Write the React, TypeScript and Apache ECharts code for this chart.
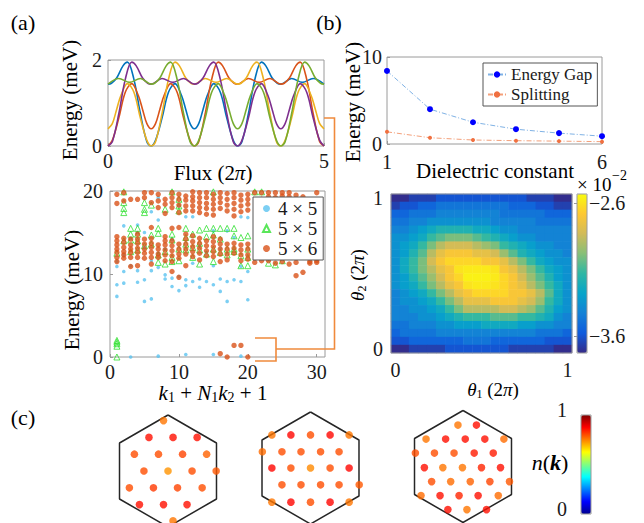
import React, { useEffect, useRef } from 'react';
import * as echarts from 'echarts';

const FONT = 'Liberation Serif, Times New Roman, serif';
const BOX = '#9a9a9a';
const INK = '#1a1a1a';

// ---------- (a) top: spectral flow vs flux ----------
const fluxTicksX = [0, 5];
const fluxTicksY = [0, 2];
const flowBlue = [[0,1.44],[0.08,1.46],[0.2,1.58],[0.35,1.87],[0.45,1.95],[0.6,1.55],[0.75,0.75],[0.9,0.10],[1.0,0],[1.1,0.13],[1.25,0.65],[1.4,1.25],[1.55,1.45],[1.7,1.18],[1.8,0.85],[1.9,0.52],[2.0,0.40],[2.1,0.52],[2.2,0.85],[2.3,1.18],[2.45,1.45],[2.6,1.25],[2.75,0.65],[2.9,0.13],[3.0,0],[3.1,0.10],[3.25,0.75],[3.4,1.55],[3.55,1.95],[3.65,1.87],[3.8,1.58],[3.92,1.46],[4.0,1.44],[4.25,1.57],[4.5,1.48],[4.75,1.57],[5.0,1.44]];
const flowOrange = [[0,0],[0.1,0.13],[0.25,0.65],[0.4,1.25],[0.55,1.45],[0.7,1.18],[0.8,0.85],[0.9,0.52],[1.0,0.40],[1.1,0.52],[1.2,0.85],[1.3,1.18],[1.45,1.45],[1.6,1.25],[1.75,0.65],[1.9,0.13],[2.0,0],[2.1,0.10],[2.25,0.75],[2.4,1.55],[2.55,1.95],[2.65,1.87],[2.8,1.58],[2.92,1.46],[3.0,1.44],[3.25,1.57],[3.5,1.48],[3.75,1.57],[4.0,1.44],[4.08,1.46],[4.2,1.58],[4.35,1.87],[4.45,1.95],[4.6,1.55],[4.75,0.75],[4.9,0.10],[5.0,0]];
const flowYellow = [[0,0.40],[0.1,0.52],[0.2,0.85],[0.3,1.18],[0.45,1.45],[0.6,1.25],[0.75,0.65],[0.9,0.13],[1.0,0],[1.1,0.10],[1.25,0.75],[1.4,1.55],[1.55,1.95],[1.65,1.87],[1.8,1.58],[1.92,1.46],[2.0,1.44],[2.25,1.57],[2.5,1.48],[2.75,1.57],[3.0,1.44],[3.08,1.46],[3.2,1.58],[3.35,1.87],[3.45,1.95],[3.6,1.55],[3.75,0.75],[3.9,0.10],[4.0,0],[4.1,0.13],[4.25,0.65],[4.4,1.25],[4.55,1.45],[4.7,1.18],[4.8,0.85],[4.9,0.52],[5.0,0.40]];
const flowPurple = [[0,0],[0.1,0.10],[0.25,0.75],[0.4,1.55],[0.55,1.95],[0.65,1.87],[0.8,1.58],[0.92,1.46],[1.0,1.44],[1.25,1.57],[1.5,1.48],[1.75,1.57],[2.0,1.44],[2.08,1.46],[2.2,1.58],[2.35,1.87],[2.45,1.95],[2.6,1.55],[2.75,0.75],[2.9,0.10],[3.0,0],[3.1,0.13],[3.25,0.65],[3.4,1.25],[3.55,1.45],[3.7,1.18],[3.8,0.85],[3.9,0.52],[4.0,0.40],[4.1,0.52],[4.2,0.85],[4.3,1.18],[4.45,1.45],[4.6,1.25],[4.75,0.65],[4.9,0.13],[5.0,0]];
const flowGreen = [[0,1.44],[0.25,1.57],[0.5,1.48],[0.75,1.57],[1.0,1.44],[1.08,1.46],[1.2,1.58],[1.35,1.87],[1.45,1.95],[1.6,1.55],[1.75,0.75],[1.9,0.10],[2.0,0],[2.1,0.13],[2.25,0.65],[2.4,1.25],[2.55,1.45],[2.7,1.18],[2.8,0.85],[2.9,0.52],[3.0,0.40],[3.1,0.52],[3.2,0.85],[3.3,1.18],[3.45,1.45],[3.6,1.25],[3.75,0.65],[3.9,0.13],[4.0,0],[4.1,0.10],[4.25,0.75],[4.4,1.55],[4.55,1.95],[4.65,1.87],[4.8,1.58],[4.92,1.46],[5.0,1.44]];

// ---------- (a) bottom: spectra vs momentum index ----------
const specTicksX = [0, 10, 20, 30];
const specTicksY = [0, 10, 20];
const energies4x5: number[][] = [
  [11.5, 10.9, 8.7, 7.3], [15.8, 12.3, 10.3, 8.9], [14.3, 11.0, 0.0], [15.9, 15.0, 10.4, 9.0],
  [15.0, 13.2, 9.3, 6.7], [17.5, 11.6, 10.4, 7.0], [19.2, 16.5, 12.5, 10.8, 0.1], [13.0, 9.9, 9.4],
  [14.2, 9.5, 8.5], [18.2, 9.7, 8.0], [16.9, 9.3, 8.6, 0.3], [16.9, 11.3, 9.1],
  [13.4, 9.4, 8.4], [12.6, 9.1], [15.2, 11.0, 8.7, 0.3], [13.1, 9.4, 7.9],
  [15.2, 9.1, 6.7], [14.4, 9.3], [16.9, 10.9, 9.1, 0.1], [16.8, 10.3, 6.9],
];
const energies5x5: number[][] = [
  [12.5, 2.0, 1.8, 1.6, 1.3, 0.0], [19.9, 18.6, 17.9, 17.4, 14.0], [15.5, 14.8, 14.1, 12.7], [15.5, 14.8, 14.0, 12.9],
  [18.6, 17.8, 17.4, 13.4], [18.3, 14.7, 13.6], [15.5, 14.9, 12.3, 11.4], [17.8, 12.7, 11.2],
  [19.9, 14.8, 14.1, 12.0, 11.5], [19.0, 18.2, 17.6, 13.0, 11.6], [15.5, 14.4, 13.6, 12.9], [14.8, 13.2, 12.0],
  [15.3, 13.7, 12.9, 11.2], [15.5, 14.5, 12.4], [19.9, 15.5, 14.7, 13.0, 11.5], [15.5, 14.2, 12.6],
  [15.5, 13.0, 12.3], [15.5, 14.6, 13.0, 12.7], [14.4, 12.2, 11.0], [14.6, 13.0, 12.0, 11.0],
  [19.9], [19.9], [11.3], [11.1], [11.6],
];
const energies5x6: number[][] = [
  [19.6, 18.5, 14.5, 14.0, 13.5, 13.0, 12.6, 12.0, 11.5], [19.8, 18.8, 14.3, 13.8, 13.2, 12.7, 12.3, 11.9],
  [19.0, 14.2, 13.5, 13.0, 12.6, 12.0, 10.9], [19.0, 14.8, 14.2, 13.7, 13.1, 12.6, 12.0, 11.0],
  [19.8, 19.2, 14.2, 13.6, 13.0, 12.5, 11.9], [19.8, 18.6, 15.6, 14.3, 13.7, 13.2, 12.6, 12.0, 11.2],
  [19.6, 18.8, 18.0, 13.5, 13.0, 12.4, 12.0], [19.0, 18.4, 17.3, 14.5, 14.0, 13.5, 12.9, 12.3, 11.6],
  [19.8, 19.2, 18.6, 18.0, 15.5, 14.0, 13.4, 12.8, 12.2, 11.5, 10.3], [19.6, 19.0, 18.3, 17.4, 15.6, 13.6, 13.0, 12.4, 11.9, 9.6],
  [19.4, 18.9, 18.2, 17.6, 14.8, 14.2, 13.6, 13.0, 12.4, 11.0], [19.9, 19.3, 18.8, 18.2, 17.6, 14.6, 13.9, 13.3, 12.7, 12.1],
  [19.8, 19.2, 18.6, 18.0, 17.4, 14.3, 13.7, 13.1, 12.5, 11.7], [19.8, 19.2, 18.5, 17.9, 17.2, 14.0, 13.4, 12.8, 12.2],
  [19.6, 19.0, 18.4, 17.8, 17.1, 14.5, 13.9, 13.3, 12.7, 12.1], [19.8, 19.2, 18.6, 17.9, 14.2, 13.6, 13.0, 12.4, 11.5, 0.4],
  [19.7, 19.0, 18.3, 17.6, 13.6, 13.0, 12.4, 11.7, 0.0], [19.8, 19.2, 18.5, 17.8, 17.0, 13.7, 13.1, 12.5, 1.4],
  [19.5, 18.9, 18.2, 17.5, 13.5, 12.9, 12.3, 11.6, 1.4], [19.6, 19.0, 18.4, 17.7, 13.6, 13.0, 12.3, 11.8, 0.0],
  [19.8, 11.4], [19.8, 19.0, 11.6], [19.8, 19.3, 11.6], [19.8, 19.2, 11.3], [19.8, 19.4, 11.5],
  [19.8, 19.3, 11.2], [19.5, 11.4, 9.8], [19.3, 10.2], [11.5, 11.3], [19.8, 11.6, 11.4],
];

// ---------- (b) top: gap and splitting vs dielectric constant ----------
const dielectric = [1, 2, 3, 4, 5, 6];
const energyGap = [8.4, 4.0, 2.5, 1.7, 1.25, 0.9];
const splitting = [1.4, 0.72, 0.46, 0.38, 0.33, 0.27];
const gapTicksX = [1, 6];
const gapTicksY = [0, 10];

// ---------- (b) bottom: map over twist angles (units of 1e-2) ----------
const thetaTicks = [0, 1];
const colorbarTicks = [-3.6, -2.6];
const heatRows: number[][] = [
  [-3.72,-3.72,-3.66,-3.66,-3.66,-3.60,-3.60,-3.60,-3.60,-3.60,-3.60,-3.60,-3.60,-3.60,-3.60,-3.66,-3.66,-3.66,-3.72,-3.72],
  [-3.66,-3.60,-3.60,-3.54,-3.54,-3.48,-3.48,-3.48,-3.48,-3.48,-3.48,-3.48,-3.48,-3.54,-3.54,-3.54,-3.60,-3.60,-3.66,-3.66],
  [-3.54,-3.54,-3.48,-3.48,-3.48,-3.42,-3.42,-3.42,-3.42,-3.42,-3.42,-3.42,-3.48,-3.48,-3.48,-3.48,-3.48,-3.54,-3.54,-3.54],
  [-3.48,-3.48,-3.42,-3.42,-3.36,-3.36,-3.36,-3.36,-3.36,-3.36,-3.36,-3.42,-3.42,-3.42,-3.42,-3.42,-3.48,-3.48,-3.48,-3.48],
  [-3.42,-3.42,-3.36,-3.30,-3.24,-3.18,-3.18,-3.18,-3.18,-3.24,-3.24,-3.30,-3.36,-3.36,-3.42,-3.42,-3.42,-3.42,-3.42,-3.42],
  [-3.36,-3.36,-3.30,-3.24,-3.12,-3.06,-3.00,-3.00,-3.00,-3.06,-3.12,-3.18,-3.24,-3.30,-3.36,-3.36,-3.42,-3.42,-3.42,-3.42],
  [-3.36,-3.30,-3.24,-3.12,-3.00,-2.88,-2.82,-2.82,-2.82,-2.88,-2.94,-3.00,-3.12,-3.18,-3.24,-3.30,-3.36,-3.36,-3.42,-3.42],
  [-3.36,-3.30,-3.18,-3.06,-2.88,-2.76,-2.70,-2.70,-2.70,-2.76,-2.76,-2.82,-2.94,-3.06,-3.18,-3.24,-3.30,-3.36,-3.36,-3.42],
  [-3.36,-3.24,-3.12,-3.00,-2.82,-2.70,-2.64,-2.64,-2.64,-2.64,-2.70,-2.70,-2.76,-2.88,-3.00,-3.12,-3.24,-3.30,-3.36,-3.36],
  [-3.36,-3.24,-3.12,-3.00,-2.88,-2.76,-2.70,-2.60,-2.58,-2.58,-2.58,-2.60,-2.70,-2.76,-2.88,-3.00,-3.12,-3.24,-3.30,-3.36],
  [-3.36,-3.30,-3.18,-3.06,-2.94,-2.82,-2.70,-2.64,-2.56,-2.56,-2.56,-2.58,-2.64,-2.70,-2.82,-2.94,-3.06,-3.18,-3.30,-3.36],
  [-3.36,-3.30,-3.24,-3.12,-3.00,-2.88,-2.76,-2.70,-2.60,-2.58,-2.58,-2.60,-2.64,-2.70,-2.76,-2.88,-3.00,-3.12,-3.24,-3.36],
  [-3.42,-3.36,-3.30,-3.24,-3.12,-3.00,-2.88,-2.76,-2.70,-2.64,-2.64,-2.64,-2.64,-2.70,-2.70,-2.76,-2.88,-3.06,-3.24,-3.36],
  [-3.42,-3.36,-3.36,-3.30,-3.24,-3.12,-3.00,-2.88,-2.76,-2.76,-2.76,-2.70,-2.70,-2.70,-2.76,-2.82,-2.94,-3.12,-3.24,-3.36],
  [-3.42,-3.42,-3.36,-3.36,-3.30,-3.24,-3.12,-3.00,-2.88,-2.88,-2.88,-2.88,-2.82,-2.82,-2.88,-2.94,-3.06,-3.18,-3.30,-3.36],
  [-3.42,-3.42,-3.42,-3.36,-3.36,-3.30,-3.24,-3.18,-3.12,-3.12,-3.12,-3.06,-3.06,-3.06,-3.12,-3.12,-3.18,-3.24,-3.36,-3.42],
  [-3.48,-3.48,-3.42,-3.42,-3.42,-3.36,-3.36,-3.30,-3.30,-3.30,-3.24,-3.24,-3.24,-3.24,-3.30,-3.30,-3.36,-3.36,-3.42,-3.42],
  [-3.54,-3.48,-3.48,-3.48,-3.48,-3.42,-3.42,-3.42,-3.42,-3.42,-3.42,-3.42,-3.42,-3.42,-3.42,-3.42,-3.48,-3.48,-3.48,-3.54],
  [-3.60,-3.60,-3.54,-3.54,-3.54,-3.54,-3.54,-3.54,-3.48,-3.48,-3.48,-3.54,-3.54,-3.54,-3.54,-3.54,-3.54,-3.60,-3.60,-3.60],
  [-3.72,-3.72,-3.66,-3.66,-3.66,-3.66,-3.60,-3.60,-3.60,-3.60,-3.60,-3.60,-3.60,-3.66,-3.66,-3.66,-3.66,-3.66,-3.72,-3.72],
];

// ---------- (c) occupation n(k) in the Brillouin zone ----------
const nkTicks = [0, 1];
const bzHexagon = [[0, 1], [0.866, 0.5], [0.866, -0.5], [0, -1], [-0.866, -0.5], [-0.866, 0.5], [0, 1]];
const occ4x5 = [
  [-0.08, 0.90, 0.76],
  [-0.34, 0.60, 0.86], [0.09, 0.60, 0.86], [0.52, 0.60, 0.86],
  [-0.60, 0.30, 0.80], [-0.17, 0.30, 0.80], [0.26, 0.30, 0.81], [0.69, 0.30, 0.78],
  [-0.43, 0, 0.80], [0, 0, 0.73], [0.43, 0, 0.80], [0.86, 0, 0.79],
  [-0.69, -0.30, 0.80], [-0.26, -0.30, 0.82], [0.17, -0.30, 0.81], [0.61, -0.30, 0.80],
  [-0.51, -0.60, 0.86], [-0.08, -0.60, 0.86], [0.34, -0.60, 0.86],
  [0.09, -0.89, 0.76],
];
const occ5x5 = [
  [-0.69, 0.59, 0.76], [-0.35, 0.59, 0.87], [0, 0.59, 0.80], [0.35, 0.59, 0.87], [0.69, 0.59, 0.76],
  [-0.86, 0.29, 0.77], [-0.51, 0.29, 0.80], [-0.17, 0.29, 0.80], [0.18, 0.29, 0.80], [0.51, 0.29, 0.80],
  [-0.69, 0, 0.87], [-0.35, 0, 0.80], [0, 0, 0.74], [0.35, 0, 0.80], [0.69, 0, 0.87],
  [-0.51, -0.30, 0.80], [-0.17, -0.30, 0.80], [0.18, -0.30, 0.80], [0.51, -0.30, 0.80], [0.87, -0.30, 0.79],
  [-0.69, -0.61, 0.76], [-0.35, -0.61, 0.87], [0, -0.61, 0.80], [0.35, -0.61, 0.87], [0.69, -0.61, 0.76],
];
const occ5x6 = [
  [-0.09, 0.74, 0.76], [0.24, 0.74, 0.86],
  [-0.66, 0.49, 0.76], [-0.31, 0.49, 0.86], [0.04, 0.49, 0.86], [0.39, 0.49, 0.86], [0.73, 0.49, 0.77],
  [-0.85, 0.24, 0.80], [-0.51, 0.24, 0.80], [-0.16, 0.24, 0.80], [0.20, 0.24, 0.85], [0.54, 0.24, 0.85],
  [-0.69, -0.02, 0.86], [-0.36, -0.02, 0.76], [-0.01, -0.02, 0.76], [0.33, -0.02, 0.84], [0.67, -0.02, 0.86],
  [-0.56, -0.27, 0.80], [-0.22, -0.27, 0.77], [0.13, -0.27, 0.78], [0.48, -0.27, 0.81], [0.83, -0.27, 0.79],
  [-0.75, -0.52, 0.77], [-0.41, -0.52, 0.86], [-0.07, -0.52, 0.84], [0.27, -0.52, 0.86], [0.63, -0.52, 0.77],
  [-0.27, -0.77, 0.86], [0.07, -0.77, 0.76], [0.42, -0.77, 0.86],
];

const PARULA = ['#352A87', '#0F5CDD', '#1481D6', '#06A4CA', '#2EB7A4', '#87BF77', '#D1BB59', '#FEC832', '#F9FB0E'];
const JET = ['#00008F', '#0000FF', '#0080FF', '#00FFFF', '#80FF80', '#FFFF00', '#FF8000', '#FF0000', '#800000'];

const toPoints = (lists: number[][]) => lists.flatMap((es, i) => es.map((e) => [i + 1, e]));

function valueAxis(gridIndex: number, min: number, max: number, ticks: number[], o: any = {}) {
  return {
    type: 'value', gridIndex, min, max, position: o.position,
    splitLine: { show: false },
    axisLine: { show: false },
    axisTick: { show: o.tick !== false, inside: true, length: 3, lineStyle: { color: BOX }, customValues: ticks },
    axisLabel: {
      show: true, customValues: ticks, margin: o.margin ?? 7, fontFamily: FONT, fontSize: o.fontSize ?? 20,
      color: INK, formatter: o.formatter, lineHeight: o.lineHeight ?? 16, verticalAlign: o.verticalAlign,
    },
  };
}
const hiddenAxis = (gridIndex: number, min: number, max: number) => ({ type: 'value', gridIndex, min, max, show: false });

function gridBox(left: number, top: number, width: number, height: number, show = true, z = 0) {
  return { left, top, width, height, show, borderColor: BOX, borderWidth: 1, backgroundColor: 'transparent', z, outerBoundsMode: 'none', containLabel: false };
}

function text(x: number, y: number, t: string, size: number, extra: any = {}) {
  return {
    type: 'text', x, y, rotation: extra.rotation ?? 0, z: 20,
    style: {
      text: t, fontSize: size, fontFamily: FONT, fill: '#000', lineHeight: size + 2,
      align: extra.align ?? 'center', textAlign: extra.align ?? 'center',
      verticalAlign: 'middle', textVerticalAlign: 'middle', rich: extra.rich,
    },
  };
}

const mathRich = (size: number) => ({
  i: { fontStyle: 'italic', fontSize: size, fontFamily: FONT, lineHeight: size + 2, fill: '#000' },
  b: { fontStyle: 'italic', fontWeight: 'bold', fontSize: size, fontFamily: FONT, lineHeight: size + 2, fill: '#000' },
  n: { fontSize: size, fontFamily: FONT, lineHeight: size + 2, fill: '#000' },
  s: { fontSize: Math.round(size * 0.65), fontFamily: FONT, lineHeight: Math.round(size * 0.5), verticalAlign: 'bottom', fill: '#000' },
});

function buildOption() {
  const series: any[] = [];
  const flows = [
    [flowBlue, '#0072BD'], [flowOrange, '#D95319'], [flowYellow, '#EDB120'], [flowPurple, '#7E2F8E'], [flowGreen, '#77AC30'],
  ] as const;
  flows.forEach(([data, color], i) => series.push({
    type: 'line', name: 'state ' + (i + 1), xAxisIndex: 0, yAxisIndex: 0, data, symbol: 'none', smooth: 0.35,
    lineStyle: { color, width: 1.6 }, itemStyle: { color }, clip: true,
  }));

  series.push({
    type: 'scatter', name: '4 × 5', xAxisIndex: 1, yAxisIndex: 1, data: toPoints(energies4x5), symbol: 'circle', symbolSize: 3.6,
    itemStyle: { color: '#5BC3F0' }, clip: false,
  });
  series.push({
    type: 'scatter', name: '5 × 5', xAxisIndex: 1, yAxisIndex: 1, data: toPoints(energies5x5), symbol: 'triangle', symbolSize: 6,
    itemStyle: { color: 'rgba(0,0,0,0)', borderColor: '#2FE02F', borderWidth: 1 }, clip: false,
  });
  series.push({
    type: 'scatter', name: '5 × 6', xAxisIndex: 1, yAxisIndex: 1, data: toPoints(energies5x6), symbol: 'circle', symbolSize: 5.4,
    itemStyle: { color: '#D95319' }, clip: false,
  });

  series.push({
    type: 'line', name: 'Energy Gap', xAxisIndex: 2, yAxisIndex: 2, data: dielectric.map((d, i) => [d, energyGap[i]]),
    symbol: 'circle', symbolSize: 6, itemStyle: { color: '#0000FF' },
    lineStyle: { color: '#7FB2E5', width: 1, type: [5, 2, 1, 2] }, clip: false,
  });
  series.push({
    type: 'line', name: 'Splitting', xAxisIndex: 2, yAxisIndex: 2, data: dielectric.map((d, i) => [d, splitting[i]]),
    symbol: 'circle', symbolSize: 4, itemStyle: { color: '#F07040' },
    lineStyle: { color: '#F4A07A', width: 1, type: [5, 2, 1, 2] }, clip: false,
  });

  const heatIndex = series.length;
  series.push({
    type: 'heatmap', xAxisIndex: 3, yAxisIndex: 3,
    data: heatRows.flatMap((row, r) => row.map((v, c) => [c, heatRows.length - 1 - r, v])),
    itemStyle: { borderWidth: 0 },
  });

  const hexData = [occ4x5, occ5x5, occ5x6];
  hexData.forEach((_, h) => series.push({
    type: 'line', xAxisIndex: 6 + h, yAxisIndex: 6 + h, data: bzHexagon, symbol: 'none',
    lineStyle: { color: '#262626', width: 1.5 }, clip: false, z: 1,
  }));
  const dotIndices: number[] = [];
  hexData.forEach((d, h) => {
    dotIndices.push(series.length);
    series.push({ type: 'scatter', xAxisIndex: 6 + h, yAxisIndex: 6 + h, data: d, symbol: 'circle', symbolSize: 7.6, clip: false, z: 3 });
  });

  const cells = heatRows[0].map((_, i) => String(i));
  const rowsCat = heatRows.map((_, i) => String(i));

  return {
    animation: false,
    backgroundColor: '#ffffff',
    textStyle: { fontFamily: FONT },
    grid: [
      gridBox(108, 60, 216, 86),
      gridBox(110, 191, 215, 166),
      gridBox(387, 57, 215, 87),
      gridBox(391, 194, 181, 159, false),
      gridBox(391, 194, 181, 159, true, 5),
      gridBox(577, 194, 10, 159, true, 5),
      gridBox(112, 415, 112, 112, false),
      gridBox(254.5, 412, 112, 112, false),
      gridBox(407, 410.5, 112, 112, false),
      gridBox(581, 415, 10, 99, true, 5),
    ],
    xAxis: [
      valueAxis(0, 0, 5, fluxTicksX, { margin: 7 }),
      valueAxis(1, 0, 31.2, specTicksX, { margin: 7 }),
      valueAxis(2, 1, 6, gapTicksX, { margin: 10 }),
      { type: 'category', gridIndex: 3, data: cells, show: false },
      valueAxis(4, -0.026, 1.026, thetaTicks, { margin: 9, tick: false }),
      hiddenAxis(5, 0, 1),
      hiddenAxis(6, -1, 1),
      hiddenAxis(7, -1, 1),
      hiddenAxis(8, -1, 1),
      hiddenAxis(9, 0, 1),
    ],
    yAxis: [
      valueAxis(0, 0, 2, fluxTicksY, { margin: 6 }),
      valueAxis(1, 0, 20, specTicksY, { margin: 7 }),
      valueAxis(2, 0, 10, gapTicksY, { margin: 5 }),
      { type: 'category', gridIndex: 3, data: rowsCat, show: false },
      valueAxis(4, -0.026, 1.026, thetaTicks, { margin: 8, tick: false }),
      valueAxis(5, -3.73, -2.53, colorbarTicks, {
        position: 'right', margin: 2,
        formatter: (v: number) => (v < 0 ? '\u2212' : '') + Math.abs(v).toFixed(1),
      }),
      hiddenAxis(6, -1, 1),
      hiddenAxis(7, -1, 1),
      hiddenAxis(8, -1, 1),
      valueAxis(9, 0, 1, nkTicks, { position: 'left', margin: 14, tick: false, verticalAlign: 'bottom', lineHeight: 10 }),
    ],
    visualMap: [
      {
        type: 'continuous', seriesIndex: heatIndex, dimension: 2, min: -3.73, max: -2.53,
        inRange: { color: PARULA }, calculable: false, left: 577, top: 194, itemWidth: 10, itemHeight: 159,
        padding: 0, orient: 'vertical', hoverLink: false,
      },
      {
        type: 'continuous', seriesIndex: dotIndices, dimension: 2, min: 0, max: 1,
        inRange: { color: JET }, calculable: false, left: 581, top: 415, itemWidth: 10, itemHeight: 99,
        padding: 0, orient: 'vertical', hoverLink: false,
      },
    ],
    legend: [
      {
        data: ['4 × 5', '5 × 5', '5 × 6'], orient: 'vertical', left: 253, top: 197,
        backgroundColor: '#ffffff', borderColor: '#555', borderWidth: 1, borderRadius: 0,
        padding: [2, 6, 2, 9], itemWidth: 7, itemHeight: 7, itemGap: 1, selectedMode: false,
        textStyle: { fontFamily: FONT, fontSize: 19, color: INK, padding: [0, 0, 0, 3] },
      },
      {
        data: ['Energy Gap', 'Splitting'], orient: 'vertical', left: 483, top: 63,
        backgroundColor: '#ffffff', borderColor: '#555', borderWidth: 1, borderRadius: 0,
        padding: [3, 5, 3, 4], itemWidth: 18, itemHeight: 8, itemGap: 3, selectedMode: false,
        textStyle: { fontFamily: FONT, fontSize: 17, color: INK },
      },
    ],
    series,
    graphic: {
      elements: [
        text(23, 22, '(a)', 22),
        text(329, 22, '(b)', 22),
        text(23, 417, '(c)', 22),
        text(70, 100, 'Energy (meV)', 21, { rotation: Math.PI / 2 }),
        text(213, 173, '{n|Flux (2}{i|π}{n|)}', 21, { rich: mathRich(21) }),
        text(72, 290, 'Energy (meV)', 21, { rotation: Math.PI / 2 }),
        text(213, 393, '{i|k}{s|1}{n| + }{i|N}{s|1}{i|k}{s|2}{n| + 1}', 21, { rich: mathRich(21) }),
        text(353, 102, 'Energy (meV)', 21, { rotation: Math.PI / 2 }),
        text(495, 171, 'Dielectric constant', 21),
        text(357, 275, '{i|θ}{s|2}{n| (2}{i|π}{n|)}', 19, { rotation: Math.PI / 2, rich: mathRich(19) }),
        text(493, 389, '{i|θ}{s|1}{n| (2}{i|π}{n|)}', 19, { rich: mathRich(19) }),
        text(577, 184, '× 10', 19, { align: 'left' }),
        text(612, 175, '−2', 14, { align: 'left' }),
        text(550, 462, '{i|n}{n|(}{b|k}{n|)}', 22, { rich: mathRich(22) }),
        {
          type: 'polyline', z: 15, shape: { points: [[324, 118], [334.5, 118], [334.5, 349], [276, 349]] },
          style: { stroke: '#F08A3C', lineWidth: 1.6, fill: null },
        },
        {
          type: 'polyline', z: 15, shape: { points: [[255, 338], [276, 338], [276, 361], [255, 361]] },
          style: { stroke: '#F08A3C', lineWidth: 1.6, fill: null },
        },
      ],
    },
  };
}

export default function App() {
  const ref = useRef<HTMLDivElement>(null);
  useEffect(() => {
    if (!ref.current) return;
    const chart = echarts.init(ref.current, undefined, { renderer: 'svg' });
    chart.setOption(buildOption() as any);
    return () => chart.dispose();
  }, []);
  return (
    <div
      ref={ref}
      style={{ position: 'fixed', left: 0, top: 0, width: 644, height: 523, background: '#ffffff' }}
    />
  );
}
